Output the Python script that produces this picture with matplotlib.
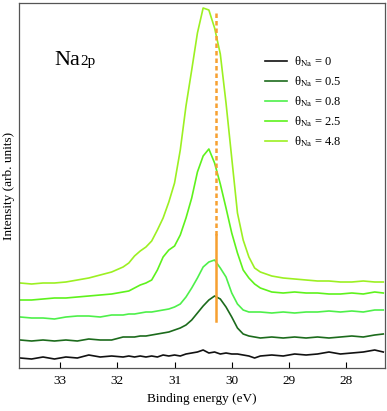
import numpy as np
import matplotlib
matplotlib.use("Agg")
import matplotlib.pyplot as plt

plt.rcParams['font.family'] = ['Liberation Serif', 'DejaVu Serif']
plt.rcParams['mathtext.fontset'] = 'stix'

# binding energy grid (eV)
energy = [33.7, 33.5, 33.3, 33.1, 32.9, 32.7, 32.5, 32.3, 32.1, 31.9,
          31.8, 31.7, 31.6, 31.5, 31.4, 31.3, 31.2, 31.1, 31.0, 30.9, 30.8, 30.7,
          30.6, 30.5, 30.4, 30.3, 30.2, 30.1, 30.0, 29.9, 29.8, 29.7, 29.6, 29.5,
          29.3, 29.1, 28.9, 28.7, 28.5, 28.3, 28.1, 27.9, 27.7, 27.5, 27.35]

# intensities (arb. units, already offset)
theta_0 = [10, 9, 11, 9, 11, 10, 13, 11, 12, 11,
           12, 11, 12, 11, 12, 11, 13, 12, 13, 12, 14, 15,
           16, 18, 15, 16, 14, 15, 14, 14, 13, 12, 10, 12,
           13, 12, 14, 13, 14, 16, 14, 15, 16, 18, 16]
theta_05 = [28, 27, 28, 27, 28, 27, 29, 28, 28, 31,
            31, 31, 32, 32, 33, 34, 35, 36, 38, 40, 43, 48,
            55, 62, 68, 72, 69, 61, 51, 40, 34, 32, 31, 30,
            31, 30, 31, 30, 31, 30, 31, 32, 31, 33, 34]
theta_08 = [51, 50, 50, 49, 51, 52, 52, 51, 53, 53,
            54, 54, 55, 56, 56, 57, 58, 59, 61, 64, 71, 80,
            90, 101, 106, 108, 100, 91, 75, 64, 58, 56, 56, 56,
            55, 56, 55, 56, 56, 57, 56, 57, 56, 58, 58]
theta_25 = [68, 68, 69, 70, 70, 71, 72, 73, 74, 76,
            77, 80, 83, 85, 88, 98, 111, 118, 122, 133, 150, 170,
            196, 212, 219, 205, 184, 160, 135, 115, 98, 90, 84, 80,
            76, 75, 76, 75, 75, 74, 74, 75, 74, 76, 75]
theta_48 = [85, 84, 85, 85, 86, 88, 90, 93, 96, 101,
            105, 112, 117, 121, 127, 138, 150, 166, 185, 218, 262, 298,
            335, 360, 358, 340, 314, 265, 210, 155, 128, 111, 100, 96,
            92, 90, 89, 88, 87, 87, 86, 86, 87, 86, 86]

series = [theta_0, theta_05, theta_08, theta_25, theta_48]
labels = ["0", "0.5", "0.8", "2.5", "4.8"]
colors = ["#111111", "#1c6b1c", "#4ef04a", "#5ef21c", "#9cf022"]

peak_pos = 30.27
dash_top, dash_bottom, solid_bottom = 356, 133, 47

fig = plt.figure(figsize=(3.87, 4.11), dpi=100)
ax = fig.add_axes([19/387, 43/411, 366/387, 365/411])

for y, lab, c in zip(series, labels, colors):
    ax.plot(energy, y, color=c, lw=1.2, label="θ$_{\\mathrm{Na}}$ = " + lab)

# peak position marker
ax.plot([peak_pos, peak_pos], [dash_bottom, dash_top], color="#f7a030",
        lw=1.8, ls=(0, (1.8, 1.2)))
ax.plot([peak_pos, peak_pos], [solid_bottom, dash_bottom], color="#f7a030", lw=1.8)

ax.set_xlim(33.72, 27.32)
ax.set_ylim(0, 365)
ax.set_xticks([33, 32, 31, 30, 29, 28])
ax.set_yticks([])
ax.tick_params(axis='x', direction='in', length=4, labelsize=9.5, pad=5)
for s in ax.spines.values():
    s.set_color("#555555")
    s.set_linewidth(0.9)

ax.set_xlabel("Binding energy (eV)", fontsize=9.5, labelpad=4)
ax.set_ylabel("Intensity (arb. units)", fontsize=9.5, labelpad=3)

ax.text(0.098, 0.830, "Na", transform=ax.transAxes, fontsize=16, va='baseline')
ax.text(0.169, 0.830, "2p", transform=ax.transAxes, fontsize=11, va='baseline')

ax.legend(loc="upper left", bbox_to_anchor=(0.672, 0.86), frameon=False,
          fontsize=9, handlelength=1.8, handletextpad=0.5, labelspacing=0.42,
          borderpad=0, borderaxespad=0)

fig.savefig("out.png", dpi=100)
